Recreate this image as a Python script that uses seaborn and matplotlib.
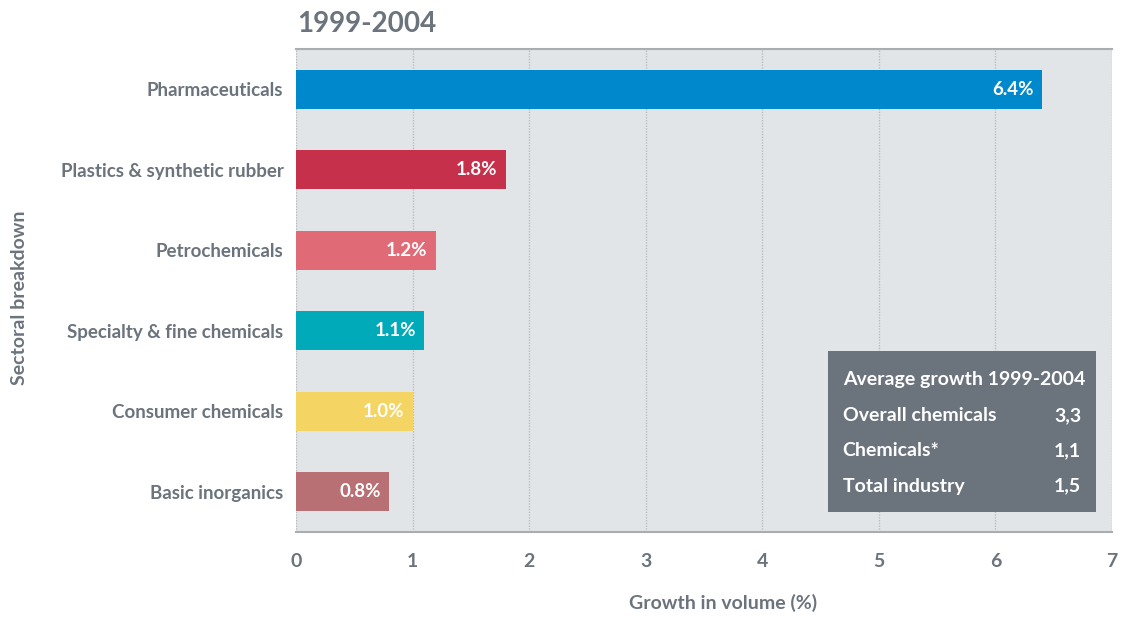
#!/usr/bin/env python3
"""Sectoral growth in chemicals volume, 1999-2004."""

import matplotlib.pyplot as plt
import pandas as pd
import seaborn as sns

SECTORS = [
    "Pharmaceuticals",
    "Plastics & synthetic rubber",
    "Petrochemicals",
    "Specialty & fine chemicals",
    "Consumer chemicals",
    "Basic inorganics",
]
GROWTH = [6.4, 1.8, 1.2, 1.1, 1.0, 0.8]
COLORS = ["#0088cc", "#c7304a", "#e06b77", "#00aab8", "#f4d563", "#b87075"]

BOX_LABELS = ["Overall chemicals", "Chemicals*", "Total industry"]
BOX_VALUES = ["3,3", "1,1", "1,5"]

TEXT = "#6b737c"
FONT = ["Lato", "DejaVu Sans"]

sns.set_theme(style="white")
plt.rcParams["font.family"] = FONT
plt.rcParams["font.weight"] = "bold"

df = pd.DataFrame({"sector": SECTORS, "growth": GROWTH})

fig = plt.figure(figsize=(11.22, 6.21), dpi=100)
ax = fig.add_axes([0.2638, 0.1433, 0.7273, 0.7778])
ax.set_facecolor("#e2e5e8")

sns.barplot(
    data=df,
    x="growth",
    y="sector",
    hue="sector",
    palette=COLORS,
    legend=False,
    width=0.48,
    saturation=1,
    linewidth=0,
    ax=ax,
)

for bar, val in zip(ax.patches, GROWTH):
    y = bar.get_y() + bar.get_height() / 2
    ax.text(val - 0.07, y, f"{val:.1f}%", ha="right", va="center",
            color="white", fontsize=13.5, fontweight="bold")

ax.set_xlim(0, 7)
ax.set_ylim(5.5, -0.5)
ax.set_xticks(range(8))
ax.grid(axis="x", color="#b9bdc2", linestyle=(0, (1, 1)), linewidth=1)
ax.set_axisbelow(True)
for side in ["left", "right"]:
    ax.spines[side].set_visible(False)
for side in ["top", "bottom"]:
    ax.spines[side].set_color("#a9adb2")
    ax.spines[side].set_linewidth(1.5)

ax.tick_params(axis="both", length=0, labelcolor=TEXT, labelsize=14)
ax.tick_params(axis="y", labelsize=13.5, pad=9)
ax.tick_params(axis="x", pad=15)
ax.set_xlabel("")
ax.set_ylabel("")
fig.text(723 / 1122, 1 - 603 / 621, "Growth in volume (%)", ha="center", va="center",
         color=TEXT, fontsize=14, fontweight="bold")
fig.text(0.017, 0.52, "Sectoral breakdown", rotation=90, ha="center", va="center",
         color=TEXT, fontsize=14, fontweight="bold")
fig.text(0.265, 0.962, "1999-2004", ha="left", va="center",
         color=TEXT, fontsize=20, fontweight="bold")

# summary box
box = fig.add_axes([828 / 1122, 1 - 512 / 621, 268 / 1122, 161 / 621])
box.set_facecolor("#6b737d")
box.set_xticks([])
box.set_yticks([])
for s in box.spines.values():
    s.set_visible(False)
box.set_xlim(0, 1)
box.set_ylim(0, 1)
box.text(0.055, 0.82, "Average growth 1999-2004", color="white", fontsize=14,
         fontweight="bold", va="center")
for i, (lab, val) in enumerate(zip(BOX_LABELS, BOX_VALUES)):
    yy = 0.60 - i * 0.22
    box.text(0.055, yy, lab, color="white", fontsize=14, fontweight="bold", va="center")
    box.text(0.945, yy, val, color="white", fontsize=14, fontweight="bold",
             va="center", ha="right")

fig.savefig("out.png", dpi=100)
